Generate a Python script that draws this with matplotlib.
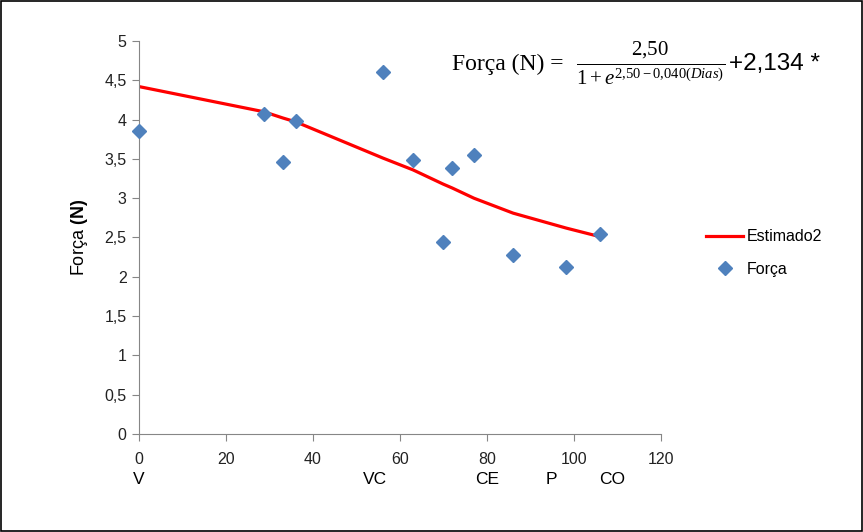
import numpy as np
import matplotlib.pyplot as plt
from matplotlib.patches import Rectangle

plt.rcParams['font.family'] = ['Liberation Sans', 'DejaVu Sans']
plt.rcParams['mathtext.fontset'] = 'custom'
plt.rcParams['mathtext.rm'] = 'Liberation Serif'
plt.rcParams['mathtext.it'] = 'Liberation Serif:italic'
plt.rcParams['mathtext.bf'] = 'Liberation Sans:bold'

# observed data (days, force N)
dias = [0, 28.7, 33.1, 36.1, 56.1, 63.0, 69.9, 72.0, 77.0, 86.0, 98.2, 106.0]
forca = [3.85, 4.07, 3.46, 3.98, 4.61, 3.49, 2.44, 3.38, 3.55, 2.28, 2.13, 2.55]

# estimated curve (Estimado2) at the same days
estimado = [4.42, 4.10, 4.02, 3.97, 3.51, 3.36, 3.18, 3.13, 3.00, 2.81, 2.62, 2.51]

# stage labels under the x axis
estagios = ['V', 'VC', 'CE', 'P', 'CO']
estagio_x = [0, 54.3, 80, 94.7, 108.7]

yticks = np.arange(0, 5.01, 0.5)
ytick_labels = [('%g' % v).replace('.', ',') for v in yticks]

fig = plt.figure(figsize=(8.63, 5.32), dpi=100)
ax = fig.add_axes([139 / 863, 1 - 434 / 532, (661 - 139) / 863, (434 - 41) / 532])

ax.plot(dias, estimado, color='#FF0000', lw=2.3, label='Estimado2', zorder=2)
ax.plot(dias, forca, 'D', color='#4F81BD', ms=7.5, ls='none', label='Força',
        zorder=3, clip_on=False)

ax.set_xlim(0, 120)
ax.set_ylim(0, 5)
ax.set_xticks(range(0, 121, 20))
ax.set_yticks(yticks)
ax.set_yticklabels(ytick_labels)

for s in ['top', 'right']:
    ax.spines[s].set_visible(False)
for s in ['left', 'bottom']:
    ax.spines[s].set_color('#868686')
ax.tick_params(color='#868686', length=5, labelsize=11.5, labelcolor='#222222', pad=4)
ax.tick_params(axis='x', pad=8)

ax.set_ylabel('Força $\\mathbf{(N)}$', fontsize=13, labelpad=10)

for lab, xv in zip(estagios, estagio_x):
    ax.text(xv, -0.58, lab, ha='center', va='center', fontsize=12.5, clip_on=False)

# equation, written in three pieces
y_eq = 1 - 64 / 532
fig.text(452 / 863, y_eq, 'Força (N) =', family='Liberation Serif',
         fontsize=17, va='center', ha='left')
frac = fig.text(576 / 863, y_eq, r'$\frac{2{,}50}{1+e^{2{,}50-0{,}040(Dias)}}$',
                fontsize=21.5, va='center', ha='left')
fig.canvas.draw()
bb = frac.get_window_extent().transformed(fig.transFigure.inverted())
fig.text(bb.x1 + 4 / 863, y_eq, '+2,134 *', fontsize=17.5, va='center', ha='left')

ax.legend(loc='upper left', bbox_to_anchor=(692 / 863, 1 - 215 / 532),
          bbox_transform=fig.transFigure, frameon=False, fontsize=11.5,
          handlelength=2.3, labelspacing=1.1, handletextpad=0.2)

fig.add_artist(Rectangle((0.001, 0.001), 0.998, 0.997, transform=fig.transFigure,
                         fill=False, edgecolor='black', lw=1.2))

fig.savefig('out.png', dpi=100)
